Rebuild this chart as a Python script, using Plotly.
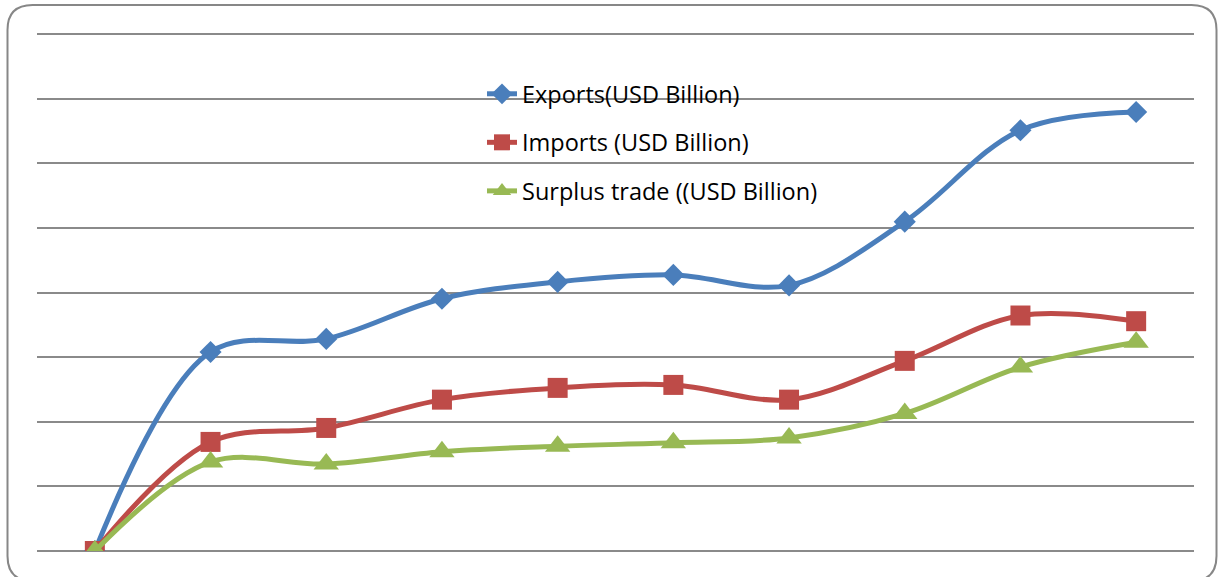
import plotly.graph_objects as go

periods = ["2010", "2011", "2012", "2013", "2014", "2015", "2016", "2017", "2018", "2019"]
exports = [0, 154.0, 164.1, 195.2, 208.2, 213.6, 205.5, 254.8, 325.5, 339.6]
imports = [0, 84.4, 95.2, 117.1, 126.2, 128.5, 117.1, 147.1, 182.2, 177.8]
surplus = [0, 68.9, 67.3, 76.8, 81.1, 83.7, 87.5, 106.4, 142.3, 161.5]

names = ["Exports(USD Billion)", "Imports (USD Billion)", "Surplus trade ((USD Billion)"]
colors = ["#4A7EBB", "#BE4B48", "#98B954"]
symbols = ["diamond", "square", "triangle-up"]
msizes = [17, 20, 22]

fig = go.Figure()
for i, (vals, nm) in enumerate(zip([exports, imports, surplus], names)):
    fig.add_trace(go.Scatter(
        x=periods, y=vals, name=nm, mode="lines+markers",
        line=dict(color=colors[i], width=5, shape="spline", smoothing=1.0),
        marker=dict(symbol=symbols[i], size=msizes[i], color=colors[i]),
        legendgroup=f"g{i}",
    ))

W, H = 1218, 577
ml, mr, mt, mb = 37, 24, 32, 26
pw, ph = W - ml - mr, H - mt - mb
ytop = 400 * ph / (ph - 2)

def px_to_paper_x(px):
    return (px - ml) / pw

def px_to_paper_y(py):
    return (H - mb - py) / ph

# rounded outer frame
x0, x1 = px_to_paper_x(7.5), px_to_paper_x(1216.5)
y1, y0 = px_to_paper_y(5), px_to_paper_y(581)
rx, ry = 25 / pw, 25 / ph
path = (f"M{x0+rx},{y1} L{x1-rx},{y1} Q{x1},{y1} {x1},{y1-ry} "
        f"L{x1},{y0+ry} Q{x1},{y0} {x1-rx},{y0} "
        f"L{x0+rx},{y0} Q{x0},{y0} {x0},{y0+ry} "
        f"L{x0},{y1-ry} Q{x0},{y1} {x0+rx},{y1} Z")

fig.update_layout(
    width=W, height=H,
    margin=dict(l=ml, r=mr, t=mt, b=mb),
    paper_bgcolor="white", plot_bgcolor="white",
    font=dict(family="Open Sans, Lato, sans-serif", size=23.5, color="#000000"),
    showlegend=True,
    legend=dict(x=px_to_paper_x(482), y=px_to_paper_y(72), xanchor="left", yanchor="top",
                bgcolor="rgba(0,0,0,0)", traceorder="grouped", tracegroupgap=15,
                font=dict(size=23.5)),
    shapes=[dict(type="path", xref="paper", yref="paper", path=path,
                 line=dict(color="#878787", width=2), layer="below")],
    xaxis=dict(range=[-0.5, 9.5], showticklabels=False, showgrid=False, zeroline=False,
               showline=False, ticks=""),
    yaxis=dict(range=[0, ytop], dtick=50, showticklabels=False, showgrid=True,
               gridcolor="#8A8A8A", gridwidth=2, zeroline=True, zerolinecolor="#8A8A8A",
               zerolinewidth=2, showline=False, ticks=""),
)

fig.write_html("out.html", config={"displayModeBar": False},
               post_script="document.body.style.margin='0px';")
